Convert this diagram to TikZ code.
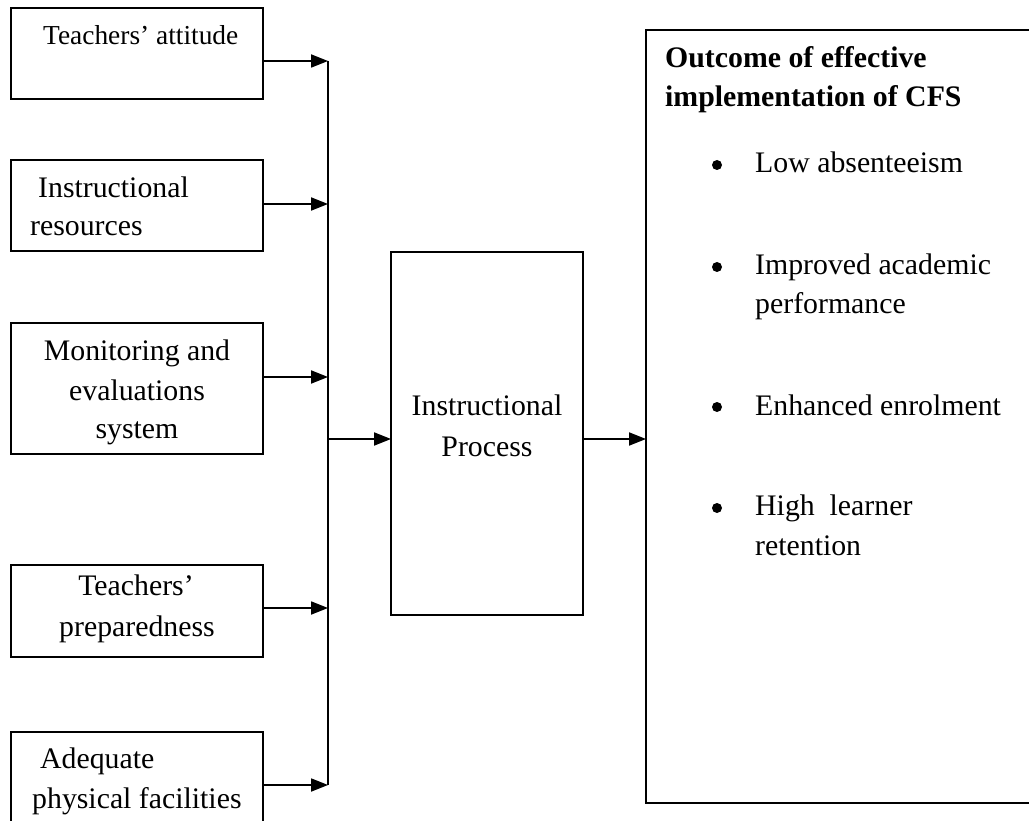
\documentclass[tikz,border=0pt]{standalone}
\usepackage{fontspec}
\setmainfont{Liberation Serif}
\usetikzlibrary{arrows.meta}
\begin{document}
\begin{tikzpicture}[x=1pt,y=-1pt,
  box/.style={draw, line width=1.8pt, inner sep=0pt, outer sep=0pt},
  txt/.style={font=\fontsize{29.8}{38.5}\selectfont, inner sep=0pt, anchor=base west},
  ctxt/.style={font=\fontsize{29.8}{38.5}\selectfont, inner sep=0pt, anchor=base},
  btxt/.style={font=\fontsize{29.8}{38.5}\selectfont\bfseries, inner sep=0pt, anchor=base west},
  dot/.style={circle, fill, inner sep=0pt, minimum size=10pt},
  arr/.style={line width=1.8pt, -{Triangle[length=17pt,width=13pt]}},
  ln/.style={line width=1.8pt}]
\useasboundingbox (0,0) rectangle (1029,821);
\clip (0,0) rectangle (1029,821);

% left boxes
\node[box, minimum width=252pt, minimum height=91pt]  (b1) at (137,53.5) {};
\node[box, minimum width=252pt, minimum height=91pt]  (b2) at (137,205.5) {};
\node[box, minimum width=252pt, minimum height=131pt] (b3) at (137,388.5) {};
\node[box, minimum width=252pt, minimum height=92pt]  (b4) at (137,611) {};
\node[box, minimum width=252pt, minimum height=118pt] (b5) at (137,791) {};

% middle and right boxes
\node[box, minimum width=192pt, minimum height=363pt] (ip)  at (487,433.5) {};
\node[box, minimum width=414pt, minimum height=773pt] (out) at (853,416.5) {};

% texts of left boxes
\node[txt, font=\fontsize{27.4}{35}\selectfont] (t1) at (43,45) {Teachers’ attitude};
\node[txt]  (t2a) at (38,198)  {Instructional};
\node[txt]  (t2b) at (30,236)  {resources};
\node[ctxt] (t3a) at (137,360) {Monitoring and};
\node[ctxt] (t3b) at (137,400) {evaluations};
\node[ctxt] (t3c) at (137,438) {system};
\node[ctxt] (t4a) at (136,595) {Teachers’};
\node[ctxt] (t4b) at (137,636) {preparedness};
\node[txt]  (t5a) at (40,768)  {Adequate};
\node[txt]  (t5b) at (32,808)  {physical facilities};

% middle text
\node[ctxt] (ipa) at (487,415) {Instructional};
\node[ctxt] (ipb) at (487,456) {Process};

% outcome text
\node[btxt] (h1) at (665,68)  {Outcome of effective};
\node[btxt] (h2) at (665,107) {implementation of CFS};
\node[dot]  (d1) at (717,165) {};
\node[txt]  (o1) at (755,173) {Low absenteeism};
\node[dot]  (d2) at (717,267) {};
\node[txt]  (o2a) at (755,275) {Improved academic};
\node[txt]  (o2b) at (755,313) {performance};
\node[dot]  (d3) at (717,407) {};
\node[txt]  (o3) at (755,415) {Enhanced enrolment};
\node[dot]  (d4) at (717,508) {};
\node[txt]  (o4a) at (755,515) {High\ \ learner};
\node[txt]  (o4b) at (755,555) {retention};

% connectors
\coordinate (c1) at (328,61);
\coordinate (c2) at (328,204);
\coordinate (c3) at (328,377);
\coordinate (cm) at (328,439);
\coordinate (c4) at (328,608);
\coordinate (c5) at (328,785);
\draw[ln] (c1) -- (c5);
\draw[arr] (b1.east |- c1) -- (c1);
\draw[arr] (b2.east |- c2) -- (c2);
\draw[arr] (b3.east |- c3) -- (c3);
\draw[arr] (b4.east |- c4) -- (c4);
\draw[arr] (b5.east |- c5) -- (c5);
\draw[arr] (cm) -- (ip.west |- cm);
\draw[arr] (ip.east |- cm) -- (out.west |- cm);
\end{tikzpicture}
\end{document}
